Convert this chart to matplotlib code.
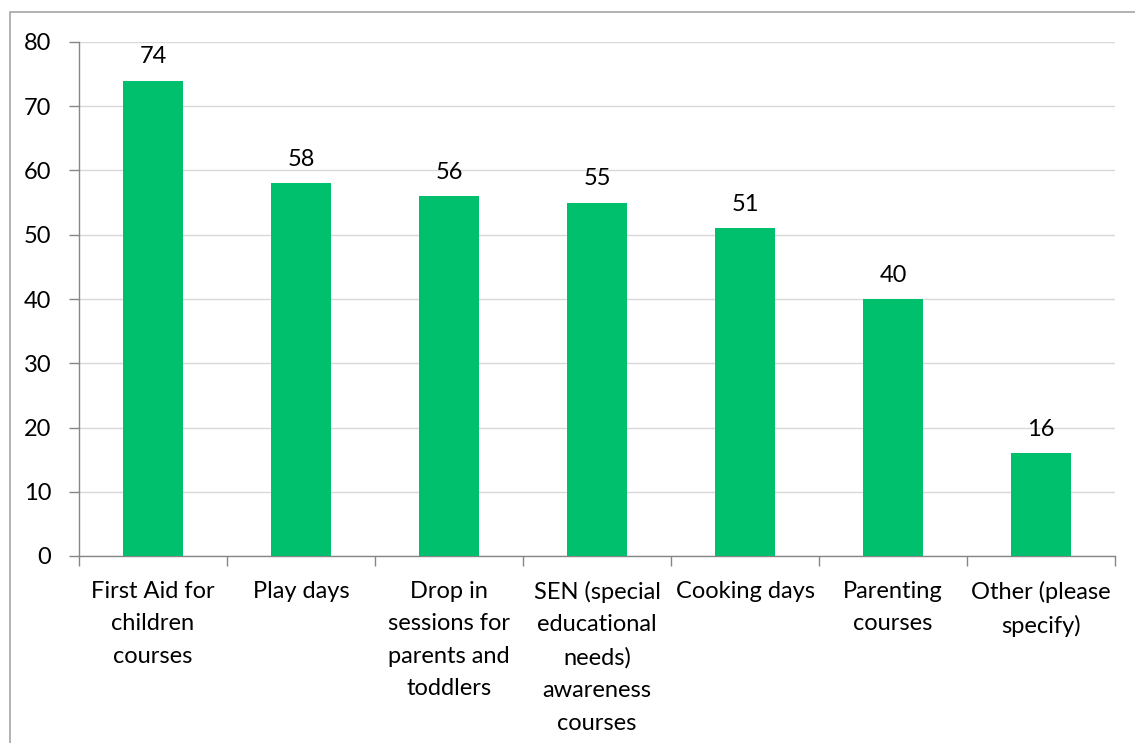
import matplotlib.pyplot as plt
from matplotlib.patches import Rectangle
import numpy as np

plt.rcParams['font.family'] = ['Lato', 'DejaVu Sans']

# categories and counts
categories = [
    'First Aid for\nchildren\ncourses',
    'Play days',
    'Drop in\nsessions for\nparents and\ntoddlers',
    'SEN (special\neducational\nneeds)\nawareness\ncourses',
    'Cooking days',
    'Parenting\ncourses',
    'Other (please\nspecify)',
]
counts = [74, 58, 56, 55, 51, 40, 16]

bar_color = '#00C06E'
axis_color = '#868686'
grid_color = '#D9D9D9'

fig = plt.figure(figsize=(11.35, 7.43), dpi=100)
ax = fig.add_axes([79 / 1135, 1 - 556 / 743, (1115 - 79) / 1135, (556 - 42) / 743])

x = np.arange(len(categories))
bars = ax.bar(x, counts, width=0.41, color=bar_color, zorder=3)

for xi, v in zip(x, counts):
    ax.annotate(str(v), (xi, v), xytext=(0, 9.5), textcoords='offset points',
                ha='center', va='bottom', fontsize=17, color='black')

ax.set_xlim(-0.5, len(categories) - 0.5)
ax.set_ylim(0, 80)
ax.set_yticks(range(0, 81, 10))
ax.yaxis.grid(True, color=grid_color, linewidth=1, zorder=0)
ax.set_axisbelow(True)

ax.set_xticks(x)
ax.set_xticklabels(categories, fontsize=17, linespacing=1.67)
ax.set_xticks(np.arange(-0.5, len(categories), 1), minor=True)
ax.tick_params(axis='x', which='major', length=0, pad=18)
ax.tick_params(axis='x', which='minor', length=7, color=axis_color, width=1)
ax.tick_params(axis='y', length=7, color=axis_color, width=1, labelsize=17, pad=13)

for side in ['top', 'right']:
    ax.spines[side].set_visible(False)
for side in ['left', 'bottom']:
    ax.spines[side].set_color(axis_color)
    ax.spines[side].set_linewidth(1)

# outer chart border, cut off at right and bottom like the reference
fig.patches.append(Rectangle((10 / 1135, -0.05), 1.2, 1.05 - 12 / 743,
                             transform=fig.transFigure, fill=False,
                             edgecolor='#A6A6A6', linewidth=1.2))

fig.savefig('out.png', dpi=100)
